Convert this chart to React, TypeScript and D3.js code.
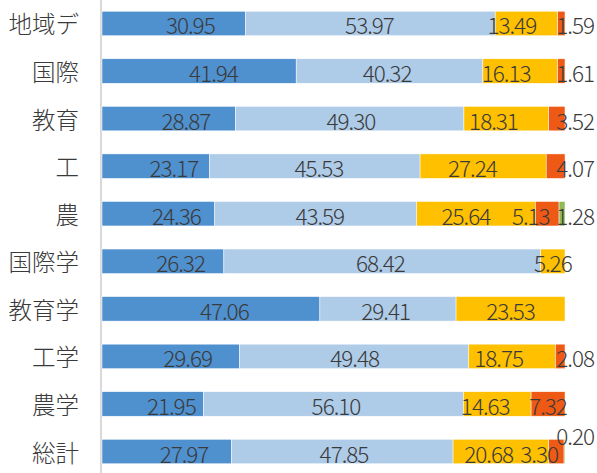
import React from "react";
import * as d3 from "d3";

const categories = ["地域デ", "国際", "教育", "工", "農", "国際学", "教育学", "工学", "農学", "総計"];
const seriesA = [30.95, 41.94, 28.87, 23.17, 24.36, 26.32, 47.06, 29.69, 21.95, 27.97];
const seriesB = [53.97, 40.32, 49.30, 45.53, 43.59, 68.42, 29.41, 49.48, 56.10, 47.85];
const seriesC = [13.49, 16.13, 18.31, 27.24, 25.64, 5.26, 23.53, 18.75, 14.63, 20.68];
const seriesD = [1.59, 1.61, 3.52, 4.07, 5.13, 0, 0, 2.08, 7.32, 3.30];
const seriesE = [0, 0, 0, 0, 1.28, 0, 0, 0, 0, 0.20];

const allSeries = [seriesA, seriesB, seriesC, seriesD, seriesE];
const colors = ["#4F90CF", "#AECBE8", "#FFC000", "#EE5A15", "#8FBB55"];

const W = 597;
const H = 473;
const FONT = "'Noto Sans CJK JP', 'Noto Sans', sans-serif";

export default function App() {
  const x = d3.scaleLinear().domain([0, 100]).range([102, 565]);
  const labelX = d3.scaleLinear().domain([0, 100]).range([125, 547]);
  const y = d3.scaleBand<string>().domain(categories).range([-0.3, 475.3]).paddingInner(0.485).paddingOuter(0.2425);

  const stackData = categories.map((c, i) => {
    const row: any = { cat: c };
    allSeries.forEach((s, k) => (row["s" + k] = s[i]));
    return row;
  });
  const keys = allSeries.map((_, k) => "s" + k);
  const stacked = d3.stack().keys(keys)(stackData);

  const bars: JSX.Element[] = [];
  const labels: JSX.Element[] = [];
  stacked.forEach((layer, k) => {
    layer.forEach((seg, i) => {
      const v = allSeries[k][i];
      if (v <= 0) return;
      const cat = categories[i];
      const y0 = y(cat)!;
      const bw = y.bandwidth();
      const x0 = x(seg[0]);
      const x1 = x(seg[1]);
      bars.push(
        <rect key={`b${k}-${i}`} x={x0} y={y0} width={x1 - x0} height={bw} fill={colors[k]} stroke="#ffffff" strokeWidth={0.5} />
      );
      const isLast = allSeries.slice(k + 1).every((s) => s[i] === 0);
      const cy = y0 + bw / 2;
      let tx: number;
      let anchor = "middle";
      let ty = cy;
      if (v < 1) {
        tx = 594;
        anchor = "end";
        ty = cy - 18;
      } else if (isLast) {
        if (x1 - x0 >= 20) {
          tx = (x0 + x1) / 2;
        } else {
          tx = 594;
          anchor = "end";
        }
      } else {
        tx = labelX((seg[0] + seg[1]) / 2);
      }
      labels.push(
        <text key={`t${k}-${i}`} x={tx} y={ty + 1} textAnchor={anchor} dominantBaseline="central" fontSize={22.5} fontWeight={300} letterSpacing={-1} fill="#3A3A3A" fontFamily={FONT}>
          {v.toFixed(2)}
        </text>
      );
    });
  });

  return (
    <div style={{ position: "fixed", left: 0, top: 0 }}>
      <svg width={W} height={H} style={{ display: "block", background: "#ffffff" }}>
        <line x1={101} x2={101} y1={0} y2={H} stroke="#D9D9D9" strokeWidth={2} />
        {categories.map((c) => (
          <text key={c} x={79} y={y(c)! + y.bandwidth() / 2} textAnchor="end" dominantBaseline="central" fontSize={23.5} fontWeight={300} fill="#3A3A3A" fontFamily={FONT}>
            {c}
          </text>
        ))}
        {bars}
        {labels}
      </svg>
    </div>
  );
}
